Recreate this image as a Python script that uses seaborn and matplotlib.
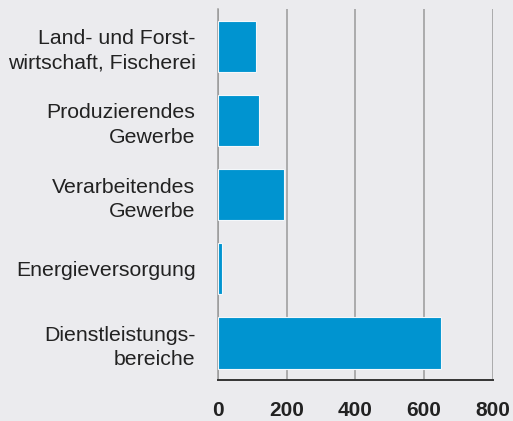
import matplotlib
matplotlib.use("Agg")
import matplotlib.pyplot as plt
import seaborn as sns
import pandas as pd

# categories and values
branchen = [
    "Land- und Forst-\nwirtschaft, Fischerei",
    "Produzierendes\nGewerbe",
    "Verarbeitendes\nGewerbe",
    "Energieversorgung",
    "Dienstleistungs-\nbereiche",
]
werte = [110, 121, 192, 13, 648]
xticks = [0, 200, 400, 600, 800]

bg = "#ebebee"
blau = "#0094d0"

sns.set_theme(style="white")
plt.rcParams["font.family"] = ["Liberation Sans", "DejaVu Sans"]

df = pd.DataFrame({"branche": branchen, "wert": werte})

fig = plt.figure(figsize=(5.13, 4.21), dpi=100, facecolor=bg)
ax = fig.add_axes([0.4244, 0.0974, 0.5366, 0.8806])
ax.set_facecolor(bg)

sns.barplot(data=df, x="wert", y="branche", color=blau, saturation=1,
            width=0.69, edgecolor="#f4f8fb", linewidth=0.8, ax=ax, zorder=3)

ax.set_xlim(0, 800)
ax.set_ylim(4.5, -0.5)
ax.set_xticks(xticks)
ax.set_xticklabels([str(t) for t in xticks], fontsize=15, fontweight="bold",
                   color="#222222")
ax.tick_params(axis="x", length=0, pad=15)
ax.tick_params(axis="y", length=0, pad=16)
for lab in ax.get_yticklabels():
    lab.set_fontsize(15.3)
    lab.set_color("#222222")
    lab.set_horizontalalignment("right")
    lab.set_multialignment("right")
    lab.set_linespacing(1.35)

ax.grid(axis="x", color="#9a9a9a", linewidth=1.1, zorder=0)
ax.set_axisbelow(True)
ax.set_xlabel("")
ax.set_ylabel("")

for side in ["top", "right"]:
    ax.spines[side].set_visible(False)
ax.spines["left"].set_color("#9a9a9a")
ax.spines["left"].set_linewidth(1.1)
ax.spines["bottom"].set_color("#333333")
ax.spines["bottom"].set_linewidth(1.4)

fig.savefig("out.png", dpi=100, facecolor=bg)
